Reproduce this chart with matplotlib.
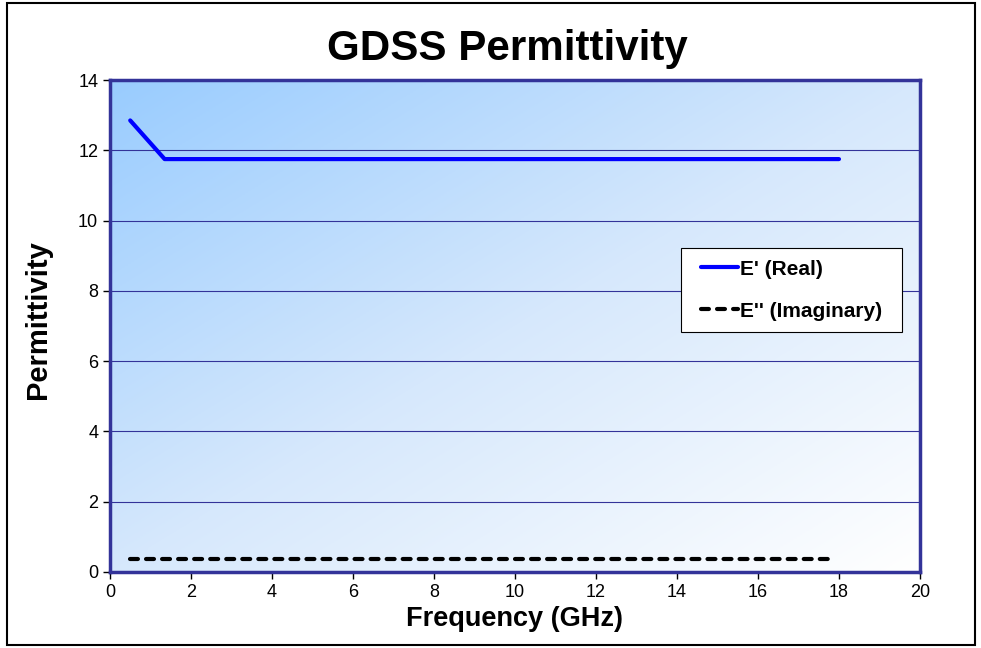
import numpy as np
import matplotlib
matplotlib.use("Agg")
import matplotlib.pyplot as plt
from matplotlib.colors import LinearSegmentedColormap
from matplotlib.path import Path

plt.rcParams['font.family'] = ['Liberation Sans', 'DejaVu Sans']

# data
freq_real = [0.5, 1.35, 18.0]
eps_real = [12.85, 11.75, 11.75]
freq_imag = [0.5, 17.8]
eps_imag = [0.37, 0.37]

x_ticks = [0, 2, 4, 6, 8, 10, 12, 14, 16, 18, 20]
y_ticks = [0, 2, 4, 6, 8, 10, 12, 14]

navy = '#333399'

fig = plt.figure(figsize=(9.81, 6.48), dpi=100)
fig.patch.set_facecolor('white')
# outer frame
fig.add_artist(plt.Rectangle((7 / 981, 3 / 648), 968 / 981, 642 / 648, transform=fig.transFigure,
                             fill=False, edgecolor='black', linewidth=1.5))

ax = fig.add_axes([0.1121, 0.1173, 0.8257, 0.7592])

# gradient background: blue in top-left to white in bottom-right
n = 256
gx, gy = np.meshgrid(np.linspace(0, 1, n), np.linspace(0, 1, n))
t = (gx + gy) / 2.0
cmap = LinearSegmentedColormap.from_list('bg', ['#99CCFF', '#D6E8FC', '#FFFFFF'])
ax.imshow(t, cmap=cmap, extent=[0, 1, 0, 1], transform=ax.transAxes,
          aspect='auto', origin='upper', zorder=0, interpolation='bilinear')

ax.set_xlim(0, 20)
ax.set_ylim(0, 14)
ax.set_xticks(x_ticks)
ax.set_yticks(y_ticks)
ax.yaxis.grid(True, color=navy, linewidth=0.8, zorder=1)
ax.set_axisbelow(False)

ax.plot(freq_real, eps_real, color='#0000FF', linewidth=3, label="E' (Real)", zorder=3,
        solid_capstyle='round')
ax.plot(freq_imag, eps_imag, color='black', linewidth=3, linestyle=(0, (1.9, 1.95)),
        label="E'' (Imaginary)", zorder=3, dash_capstyle='round')

for s in ax.spines.values():
    s.set_color(navy)
    s.set_linewidth(2.5)
    s.set_zorder(4)

ax.tick_params(axis='both', labelsize=13, direction='out', length=5, color='black', width=1)

ax.set_xlabel('Frequency (GHz)', fontsize=19.5, fontweight='bold', labelpad=4)
ax.set_ylabel('Permittivity', fontsize=21, fontweight='bold')
ax.yaxis.set_label_coords(-0.0716, 0.514)
fig.text(0.517, 0.925, 'GDSS Permittivity', ha='center', va='center',
         fontsize=30.3, fontweight='bold')


# legend frame a bit wider than tall padding, like the Excel box
def wide_box(x0, y0, width, height, mutation_size):
    dx = 0.38 * mutation_size
    return Path([(x0 - dx, y0), (x0 + width + dx, y0), (x0 + width + dx, y0 + height),
                 (x0 - dx, y0 + height), (x0 - dx, y0)], closed=True)


leg = ax.legend(loc='upper left', bbox_to_anchor=(0.715, 0.658),
                prop={'weight': 'bold', 'size': 15}, frameon=True, fancybox=False,
                handlelength=1.8, handletextpad=0.1, borderpad=0.55, labelspacing=1.1,
                borderaxespad=0)
leg.get_frame().set_boxstyle(wide_box)
leg.get_frame().set_edgecolor('black')
leg.get_frame().set_linewidth(0.8)
leg.get_frame().set_facecolor('white')
leg.get_frame().set_alpha(1)

fig.savefig('out.png', dpi=100)
